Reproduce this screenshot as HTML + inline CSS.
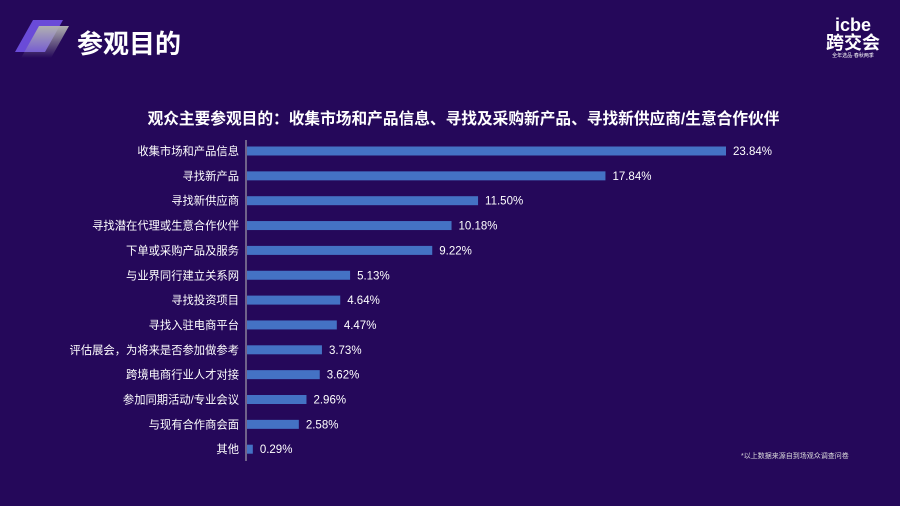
<!DOCTYPE html>
<html><head><meta charset="utf-8"><style>
body{margin:0;width:900px;height:506px;background:#25085a;overflow:hidden;font-family:"Liberation Sans","Noto Sans CJK SC",sans-serif;position:relative}
.t{position:absolute;color:#fff}
</style></head><body>
<svg style="position:absolute;left:15px;top:18px" width="60" height="42">
<defs><linearGradient id="g" x1="0" y1="0" x2="0" y2="1"><stop offset="0" stop-color="#b0b0b0"/><stop offset="1" stop-color="#b0b0b0" stop-opacity="0"/></linearGradient></defs>
<polygon points="18,2 48,2 30,34 0,34" fill="#6a4bd8"/>
<polygon points="24,8 54,8 36,40 6,40" fill="url(#g)"/>
</svg>
<div class="t" style="left:77px;top:24px;font-size:26px;font-weight:bold">参观目的</div>
<div class="t" style="left:826px;top:16px;font-size:18px;font-weight:bold;line-height:18px;text-align:center">icbe<br>跨交会<div style="font-size:5px;line-height:8px;font-weight:normal">全年选品·春秋两季</div></div>
<div class="t" style="left:0;width:927px;top:106px;text-align:center;font-size:15.7px;font-weight:bold">观众主要参观目的：收集市场和产品信息、寻找及采购新产品、寻找新供应商/生意合作伙伴</div>
<div class="t" style="left:741px;top:451px;font-size:7px;color:#ddd">*以上数据来源自到场观众调查问卷</div>
<svg id="c" style="position:absolute;left:0;top:0" width="900" height="506"></svg>
<script>
const categories=["收集市场和产品信息","寻找新产品","寻找新供应商","寻找潜在代理或生意合作伙伴","下单或采购产品及服务","与业界同行建立关系网","寻找投资项目","寻找入驻电商平台","评估展会，为将来是否参加做参考","跨境电商行业人才对接","参加同期活动/专业会议","与现有合作商会面","其他"];
const values=[23.84,17.84,11.50,10.18,9.22,5.13,4.64,4.47,3.73,3.62,2.96,2.58,0.29];
const svg=document.getElementById('c'),NS='http://www.w3.org/2000/svg';
const x0=247,k=479/23.84,y0=151,step=24.85,bh=9;
const xs=v=>v*k, ys=i=>y0+i*step;
function mk(t,a){const e=document.createElementNS(NS,t);for(const n in a)e.setAttribute(n,a[n]);svg.appendChild(e);return e;}
const ax=mk('line',{x1:246,x2:246,y1:140,y2:461,stroke:'#bbb','stroke-width':1});


categories.forEach((c,i)=>{
const y=ys(i);
const r=mk('rect',{x:x0,y:y-bh/2,width:xs(values[i]),height:bh,fill:'#4472c4'});


const l=mk('text',{x:239,y:y+4,'text-anchor':'end',fill:'#fff','font-size':11.3});
l.textContent=c;


const v=mk('text',{x:x0+xs(values[i])+7,y:y+4,fill:'#fff','font-size':11.5});
v.textContent=values[i].toFixed(2)+'%';


});
</script>
</body></html>
